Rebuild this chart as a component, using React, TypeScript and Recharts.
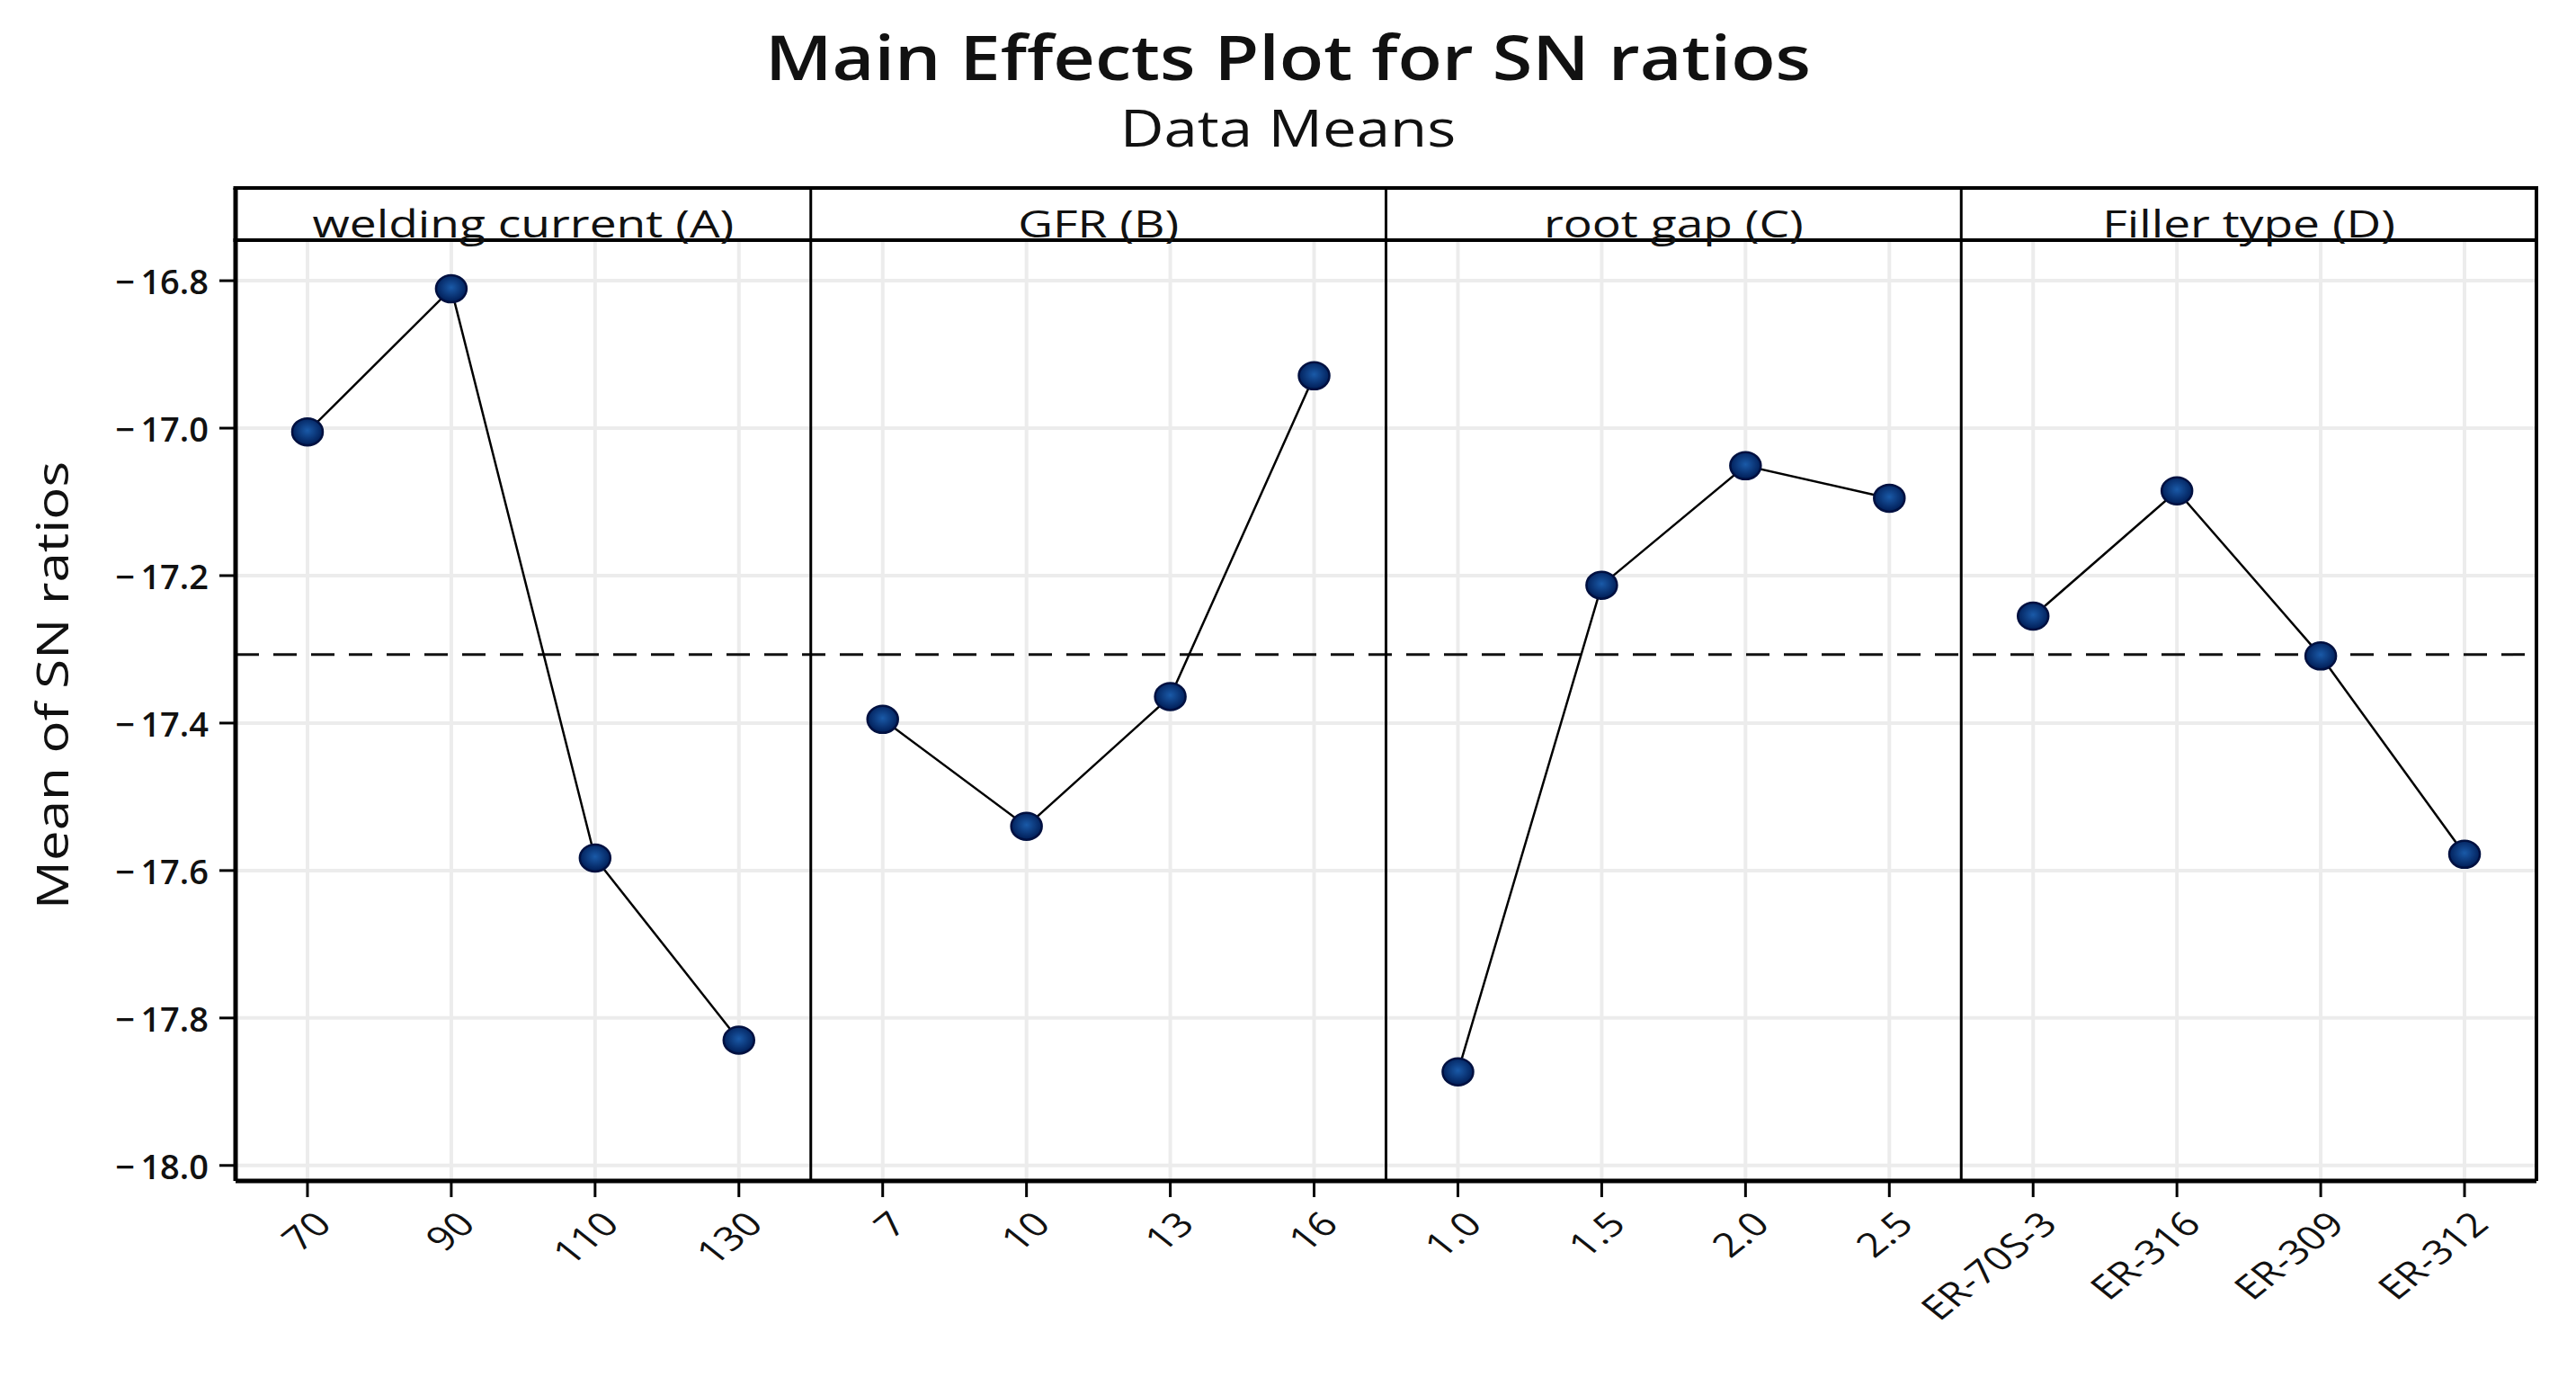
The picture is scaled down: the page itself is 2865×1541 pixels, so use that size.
import React from 'react';
import { LineChart, Line, XAxis, YAxis, CartesianGrid, ReferenceLine } from 'recharts';

const PANEL_TITLES = ['welding current (A)', 'GFR (B)', 'root gap (C)', 'Filler type (D)'];

const LEVELS_A = ['70', '90', '110', '130'];
const LEVELS_B = ['7', '10', '13', '16'];
const LEVELS_C = ['1.0', '1.5', '2.0', '2.5'];
const LEVELS_D = ['ER-70S-3', 'ER-316', 'ER-309', 'ER-312'];

const SN_A = [-17.005, -16.811, -17.583, -17.83];
const SN_B = [-17.395, -17.54, -17.364, -16.929];
const SN_C = [-17.873, -17.213, -17.051, -17.095];
const SN_D = [-17.255, -17.085, -17.309, -17.578];

const GRAND_MEAN = -17.307;
const Y_TICKS = [-18.0, -17.8, -17.6, -17.4, -17.2, -17.0, -16.8];

const LEVELS = [LEVELS_A, LEVELS_B, LEVELS_C, LEVELS_D];
const VALUES = [SN_A, SN_B, SN_C, SN_D];
const X_LABELS = LEVELS.flat();
const X_TICKS = X_LABELS.map((_, i) => i);

const panelData = LEVELS.map((levels, p) =>
  levels.map((label, i) => ({ x: p * 4 + i, label, sn: VALUES[p][i] }))
);

const W = 2849;
const H = 1525;
const PLOT_LEFT = 254;
const PLOT_RIGHT = 2813;
const PLOT_TOP = 259;
const STRIP_TOP = 201;
const UNIT = (PLOT_RIGHT - PLOT_LEFT) / 16;
const FONT = '"Open Sans", "Noto Sans", sans-serif';

const Dot = (props: any) => {
  const { cx, cy } = props;
  if (cx == null || cy == null) return null;
  return <ellipse cx={cx} cy={cy} rx={17} ry={15} fill="url(#dotGrad)" stroke="#001040" strokeWidth={2.5} />;
};

const XTick = (props: any) => {
  const { x, y, payload } = props;
  return (
    <g transform={`translate(${x + 16},${y + 20}) scale(1.25,1) rotate(-45)`}>
      <text textAnchor="end" dominantBaseline="central" fontFamily={FONT} fontSize={37} fill="#111">
        {X_LABELS[payload.value]}
      </text>
    </g>
  );
};

const YTick = (props: any) => {
  const { x, y, payload } = props;
  const label = payload.value.toFixed(1).replace('-', '\u2212\u2009');
  return (
    <text x={x} y={y} textAnchor="end" dominantBaseline="central" fontFamily={FONT} fontSize={38} fontWeight={600} fill="#111">
      {label}
    </text>
  );
};

export default function App() {
  return (
    <div style={{ position: 'relative', width: W, height: H, background: '#fff' }}>
      <div
        style={{
          position: 'absolute',
          top: 14,
          left: 0,
          width: W,
          textAlign: 'center',
          fontFamily: FONT,
          fontSize: 68,
          fontWeight: 600,
          color: '#111',
          lineHeight: 1.2,
          transform: 'scaleX(1.19)',
        }}
      >
        Main Effects Plot for SN ratios
      </div>
      <div
        style={{
          position: 'absolute',
          top: 100,
          left: 0,
          width: W,
          textAlign: 'center',
          fontFamily: FONT,
          fontSize: 56,
          color: '#111',
          lineHeight: 1.2,
          transform: 'scaleX(1.2)',
        }}
      >
        Data Means
      </div>
      <div
        style={{
          position: 'absolute',
          left: 49,
          top: 754,
          transform: 'translate(-50%, -50%) rotate(-90deg) scaleX(1.2)',
          whiteSpace: 'nowrap',
          fontFamily: FONT,
          fontSize: 50,
          color: '#111',
        }}
      >
        Mean of SN ratios
      </div>

      <LineChart width={W} height={H} margin={{ top: PLOT_TOP, right: W - PLOT_RIGHT, bottom: 0, left: 0 }}>
        <defs>
          <radialGradient id="dotGrad" cx="50%" cy="45%" r="55%">
            <stop offset="0%" stopColor="#1a5aa8" />
            <stop offset="100%" stopColor="#001c55" />
          </radialGradient>
        </defs>
        <CartesianGrid stroke="#ececec" strokeWidth={4} />
        <XAxis
          type="number"
          dataKey="x"
          domain={[-0.5, 15.5]}
          ticks={X_TICKS}
          interval={0}
          height={H - 1305}
          tick={<XTick />}
          tickSize={18}
          tickLine={{ stroke: '#000', strokeWidth: 3 }}
          axisLine={{ stroke: '#000', strokeWidth: 5 }}
          allowDataOverflow
        />
        <YAxis
          type="number"
          domain={[-18.021, -16.745]}
          ticks={Y_TICKS}
          interval={0}
          width={PLOT_LEFT}
          allowDataOverflow
          tick={<YTick />}
          tickSize={18}
          tickMargin={12}
          tickLine={{ stroke: '#000', strokeWidth: 3 }}
          axisLine={{ stroke: '#000', strokeWidth: 5 }}
        />
        <ReferenceLine y={GRAND_MEAN} stroke="#111" strokeWidth={3} strokeDasharray="26 16" />
        {[3.5, 7.5, 11.5].map((v) => (
          <ReferenceLine key={v} x={v} stroke="#000" strokeWidth={3} />
        ))}
        <ReferenceLine x={15.5} stroke="#000" strokeWidth={4} />
        {panelData.map((rows, p) => (
          <Line
            key={p}
            data={rows}
            dataKey="sn"
            stroke="#000"
            strokeWidth={2.5}
            dot={<Dot />}
            activeDot={false}
            isAnimationActive={false}
          />
        ))}
      </LineChart>

      <svg width={W} height={H} style={{ position: 'absolute', left: 0, top: 0, pointerEvents: 'none' }}>
        <line x1={PLOT_LEFT - 2.5} x2={PLOT_RIGHT + 2} y1={STRIP_TOP} y2={STRIP_TOP} stroke="#000" strokeWidth={4} />
        <line x1={PLOT_LEFT - 2.5} x2={PLOT_RIGHT + 2} y1={PLOT_TOP} y2={PLOT_TOP} stroke="#000" strokeWidth={4} />
        <line x1={PLOT_LEFT} x2={PLOT_LEFT} y1={STRIP_TOP} y2={PLOT_TOP} stroke="#000" strokeWidth={5} />
        <line x1={PLOT_RIGHT} x2={PLOT_RIGHT} y1={STRIP_TOP} y2={PLOT_TOP} stroke="#000" strokeWidth={4} />
        {[1, 2, 3].map((k) => (
          <line
            key={k}
            x1={PLOT_LEFT + k * 4 * UNIT}
            x2={PLOT_LEFT + k * 4 * UNIT}
            y1={STRIP_TOP}
            y2={PLOT_TOP}
            stroke="#000"
            strokeWidth={3}
          />
        ))}
        {PANEL_TITLES.map((t, k) => (
          <text
            key={t}
            transform={`translate(${PLOT_LEFT + (k * 4 + 2) * UNIT},${PLOT_TOP - 3}) scale(1.27,1)`}
            textAnchor="middle"
            fontFamily={FONT}
            fontSize={42}
            fill="#111"
          >
            {t}
          </text>
        ))}
      </svg>
    </div>
  );
}
